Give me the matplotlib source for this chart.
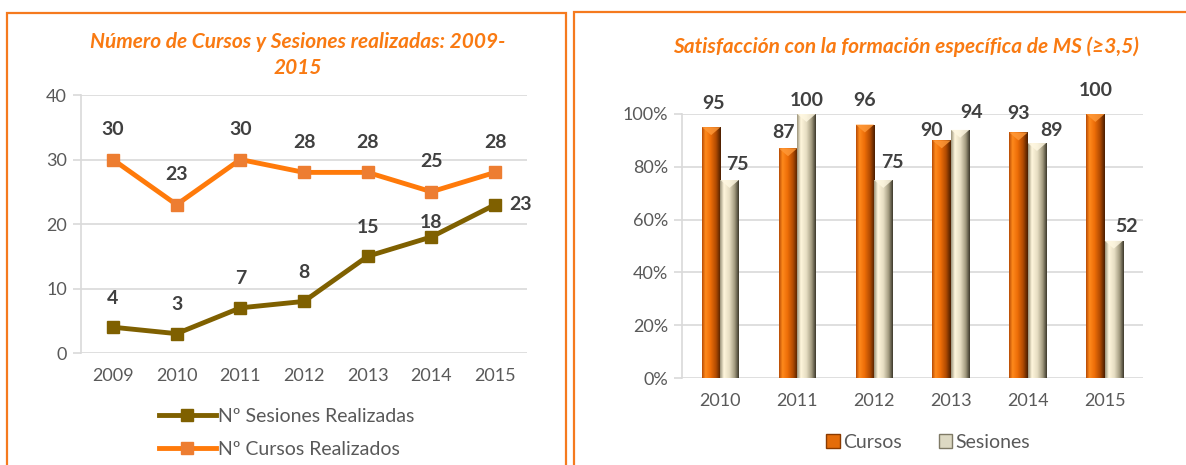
# cursos y sesiones + satisfaccion formacion especifica MS
import numpy as np
import matplotlib
matplotlib.use('Agg')
import matplotlib.pyplot as plt
from matplotlib.patches import Rectangle, Polygon
from matplotlib.lines import Line2D
from matplotlib.colors import LinearSegmentedColormap

plt.rcParams['font.family'] = ['Lato', 'DejaVu Sans']

# data
years_line = ['2009', '2010', '2011', '2012', '2013', '2014', '2015']
sesiones = [4, 3, 7, 8, 15, 18, 23]
cursos_n = [30, 23, 30, 28, 28, 25, 28]

years_bar = ['2010', '2011', '2012', '2013', '2014', '2015']
sat_cursos = [95, 87, 96, 90, 93, 100]
sat_sesiones = [75, 100, 75, 94, 89, 52]

# label offsets in pixels (manual placement as in the original)
off_ses = [(0, 29), (0, 29), (0, 29), (0, 29), (0, 29), (0, 14), (25, 0)]
off_cur = [(0, 30)] * 7
off_bc = [(2, 24), (-5, 16), (0, 24), (-10, 10), (0, 19), (0, 23)]
off_bs = [(8, 16), (0, 14), (9, 17), (11, 17), (15, 13), (13, 14)]

ORANGE_T = '#F97A12'
GRID = '#D9D9D9'
TICK = '#595959'
LABEL = '#404040'

W, H = 1186, 465
fig = plt.figure(figsize=(W / 100, H / 100), dpi=100)

# panel borders
fig.add_artist(Rectangle((7 / W, -0.1), (566 - 7) / W, (H - 13) / H + 0.1,
                         transform=fig.transFigure, fill=False,
                         edgecolor='#F57A1E', linewidth=1.6))
fig.add_artist(Rectangle((574 / W, -0.1), 0.6, (H - 12) / H + 0.1,
                         transform=fig.transFigure, fill=False,
                         edgecolor='#F57A1E', linewidth=1.6))

# ---------------- left: line chart ----------------
ax1 = fig.add_axes([81 / W, (H - 353) / H, 446 / W, 258 / H])
x = np.arange(len(years_line))
ax1.plot(x, cursos_n, color='#FF7A0A', linewidth=3.5, marker='s',
         markersize=8, markerfacecolor='#ED7D31', markeredgecolor='#ED7D31',
         label='Nº Cursos Realizados', zorder=3)
ax1.plot(x, sesiones, color='#7F6000', linewidth=3.5, marker='s',
         markersize=8, markerfacecolor='#7F6000', markeredgecolor='#7F6000',
         label='Nº Sesiones Realizadas', zorder=3)

for i, v in enumerate(cursos_n):
    ax1.annotate(str(v), (x[i], v), xytext=off_cur[i], textcoords='offset pixels',
                 ha='center', va='center', fontsize=14, fontweight='bold', color=LABEL)
for i, v in enumerate(sesiones):
    ax1.annotate(str(v), (x[i], v), xytext=off_ses[i], textcoords='offset pixels',
                 ha='center', va='center', fontsize=14, fontweight='bold', color=LABEL)

ax1.set_xlim(-0.5, len(years_line) - 0.5)
ax1.set_ylim(0, 40)
ax1.set_yticks([0, 10, 20, 30, 40])
ax1.set_xticks(x)
ax1.set_xticklabels(years_line)
ax1.yaxis.grid(True, color=GRID, linewidth=1.2)
ax1.set_axisbelow(True)
for s in ['top', 'right', 'bottom']:
    ax1.spines[s].set_visible(False)
ax1.spines['left'].set_color(GRID)
ax1.spines['left'].set_linewidth(1.2)
ax1.tick_params(axis='y', length=6, color=GRID, width=1.2, labelsize=13,
                labelcolor=TICK, pad=4)
ax1.tick_params(axis='x', length=0, labelsize=13, labelcolor=TICK, pad=11)

handles = [Line2D([], [], color='#7F6000', linewidth=3.5, marker='s', markersize=9,
                  markerfacecolor='#7F6000', markeredgecolor='#7F6000'),
           Line2D([], [], color='#FF7A0A', linewidth=3.5, marker='s', markersize=9,
                  markerfacecolor='#ED7D31', markeredgecolor='#ED7D31')]
fig.legend(handles, ['Nº Sesiones Realizadas', 'Nº Cursos Realizados'],
           loc='center', bbox_to_anchor=(287 / W, (H - 433) / H), frameon=False,
           fontsize=14, labelcolor=TICK, handlelength=2.9, handletextpad=0.15,
           labelspacing=0.85)

fig.text(298 / W, (H - 42) / H, 'Número de Cursos y Sesiones realizadas: 2009-',
         ha='center', va='center', fontsize=15, fontweight='bold', style='italic',
         color=ORANGE_T)
fig.text(298 / W, (H - 68) / H, '2015', ha='center', va='center', fontsize=15,
         fontweight='bold', style='italic', color=ORANGE_T)

# ---------------- right: bar chart ----------------
ax2 = fig.add_axes([682 / W, (H - 378) / H, 461 / W, 264 / H])
xb = np.arange(len(years_bar))
bw = 0.24

cmap_o = LinearSegmentedColormap.from_list(
    'o', [(0, '#B84C05'), (0.18, '#FF8A1C'), (0.45, '#EE6E08'),
          (0.75, '#B04A02'), (1, '#4A1E00')])
cmap_b = LinearSegmentedColormap.from_list(
    'b', [(0, '#9C957C'), (0.2, '#FFF6DC'), (0.5, '#E6DDC2'),
          (0.78, '#A39B80'), (1, '#3E3A2C')])

bars_c = ax2.bar(xb - bw / 2, sat_cursos, bw, color='none', zorder=2)
bars_s = ax2.bar(xb + bw / 2, sat_sesiones, bw, color='none', zorder=2)

grad = np.linspace(0, 1, 64).reshape(1, -1)
for bars, cm, tip in [(bars_c, cmap_o, '#FF9A3A'), (bars_s, cmap_b, '#FFF8E2')]:
    for p in bars:
        x0, w, h = p.get_x(), p.get_width(), p.get_height()
        im = ax2.imshow(grad, cmap=cm, aspect='auto', extent=(x0, x0 + w, 0, h),
                        zorder=2)
        im.set_clip_path(p)
        ax2.add_patch(Polygon([(x0, h), (x0 + w, h), (x0 + w / 2, h - 3)],
                              closed=True, facecolor=tip, edgecolor='none',
                              alpha=0.8, zorder=3))

for i, p in enumerate(bars_c):
    ax2.annotate(str(sat_cursos[i]), (p.get_x() + p.get_width() / 2, p.get_height()),
                 xytext=off_bc[i], textcoords='offset pixels', ha='center',
                 va='center', fontsize=14, fontweight='bold', color=LABEL)
for i, p in enumerate(bars_s):
    ax2.annotate(str(sat_sesiones[i]), (p.get_x() + p.get_width() / 2, p.get_height()),
                 xytext=off_bs[i], textcoords='offset pixels', ha='center',
                 va='center', fontsize=14, fontweight='bold', color=LABEL)

ax2.set_xlim(-0.5, len(years_bar) - 0.5)
ax2.set_ylim(0, 100)
ax2.set_yticks([0, 20, 40, 60, 80, 100])
ax2.set_yticklabels(['0%', '20%', '40%', '60%', '80%', '100%'])
ax2.set_xticks(xb)
ax2.set_xticklabels(years_bar)
ax2.yaxis.grid(True, color=GRID, linewidth=1.2)
ax2.set_axisbelow(True)
for s in ['top', 'right', 'bottom']:
    ax2.spines[s].set_visible(False)
ax2.spines['left'].set_color(GRID)
ax2.spines['left'].set_linewidth(1.2)
ax2.tick_params(axis='y', length=6, color=GRID, width=1.2, labelsize=13,
                labelcolor=TICK, pad=4)
ax2.tick_params(axis='x', length=0, labelsize=13, labelcolor=TICK, pad=11)

bar_handles = [Rectangle((0, 0), 1, 1, facecolor='#E46C0A', edgecolor='#8A3A00'),
               Rectangle((0, 0), 1, 1, facecolor='#DDD9C3', edgecolor='#7F7A66')]
fig.legend(bar_handles, ['Cursos', 'Sesiones'], loc='center',
           bbox_to_anchor=(928 / W, (H - 442) / H), ncol=2, frameon=False,
           fontsize=14, labelcolor=TICK, handlelength=0.7, handleheight=0.7,
           handletextpad=0.15, columnspacing=1.9)

fig.text(906 / W, (H - 47) / H, 'Satisfacción con la formación específica de MS (≥3,5)',
         ha='center', va='center', fontsize=15, fontweight='bold', style='italic',
         color=ORANGE_T)

fig.savefig('out.png', dpi=100)
